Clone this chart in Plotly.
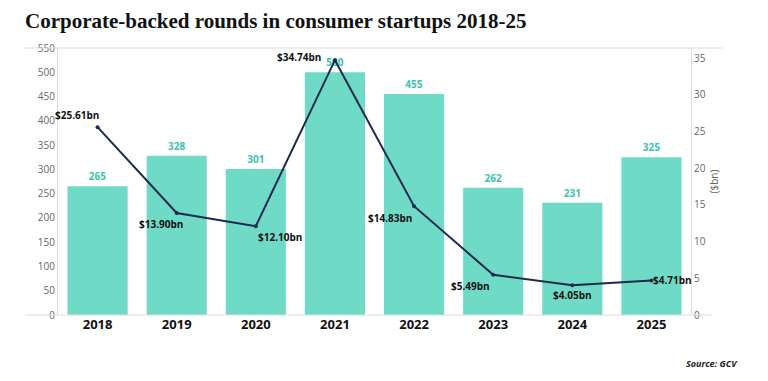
import plotly.graph_objects as go

years = ["2018", "2019", "2020", "2021", "2022", "2023", "2024", "2025"]
rounds = [265, 328, 301, 500, 455, 262, 231, 325]
value_bn = [25.61, 13.90, 12.10, 34.74, 14.83, 5.49, 4.05, 4.71]
value_labels = ["$25.61bn", "$13.90bn", "$12.10bn", "$34.74bn", "$14.83bn", "$5.49bn", "$4.05bn", "$4.71bn"]

# label placement styles (anchor, xshift, yshift) for each line point
label_styles = [
    ("right", "bottom", 3, 3),
    ("right", "top", 8, -2),
    ("left", "top", 0, -2),
    ("right", "middle", -12, 3),
    ("right", "top", 0, -3),
    ("right", "top", -1, -2),
    ("center", "top", 0, -1),
    ("left", "middle", 0, 0),
]

BAR = "#6fdbc6"
BAR_TXT = "#3cc3ae"
LINE = "#1b2a4e"
GRID = "#dcdcdc"
TICK = "#666666"

fig = go.Figure()
fig.add_trace(go.Bar(
    x=years, y=rounds, marker=dict(color=BAR, line=dict(width=0)),
    text=[str(v) for v in rounds], textposition="outside",
    textfont=dict(family="Open Sans", size=10, color=BAR_TXT, weight="bold"),
    cliponaxis=False, yaxis="y", hoverinfo="skip",
))
fig.add_trace(go.Scatter(
    x=years, y=value_bn, mode="lines+markers", yaxis="y2",
    line=dict(color=LINE, width=2), marker=dict(color=LINE, size=4),
    cliponaxis=False, hoverinfo="skip",
))

# category axis: annotations are placed by category index
for i, (y, t, (xa, ya, xs, ys)) in enumerate(zip(value_bn, value_labels, label_styles)):
    fig.add_annotation(x=i, y=y, xref="x", yref="y2", text=t, showarrow=False,
                       xanchor=xa, yanchor=ya, xshift=xs, yshift=ys,
                       font=dict(family="Open Sans", size=10, color="#111111", weight="bold"))

# frame lines
fig.add_shape(type="line", xref="paper", yref="paper", x0=-0.052, x1=1.05, y0=1, y1=1,
              line=dict(color=GRID, width=1))
fig.add_shape(type="line", xref="paper", yref="paper", x0=-0.052, x1=1.033, y0=0, y1=0,
              line=dict(color=GRID, width=1))

fig.add_annotation(text="Corporate-backed rounds in consumer startups 2018-25",
                   xref="paper", yref="paper", x=-0.056, y=1.0, yshift=13,
                   xanchor="left", yanchor="bottom", showarrow=False,
                   font=dict(family="Liberation Serif", size=21, color="#111111", weight="bold"))
fig.add_annotation(text="<i><b>Source: GCV</b></i>", xref="paper", yref="paper",
                   x=1.078, y=0, yshift=-48, xanchor="right", yanchor="middle", showarrow=False,
                   font=dict(family="Open Sans", size=9, color="#222222"))

# the page body adds an 8px offset, so the figure is 8px smaller on each axis
fig.update_layout(
    width=760, height=373,
    margin=dict(l=50, r=77, t=40, b=66, autoexpand=False),
    paper_bgcolor="white", plot_bgcolor="white",
    showlegend=False, bargap=0.24,
    xaxis=dict(type="category", range=[-0.5, len(years) - 0.5], showgrid=False, showline=False,
               ticks="", automargin=False,
               tickfont=dict(family="Open Sans", size=13, color="#111111", weight="bold")),
    yaxis=dict(range=[0, 550], dtick=50, showgrid=False, zeroline=False, automargin=False,
               showline=True, linecolor=GRID, linewidth=1,
               tickfont=dict(family="Open Sans", size=10, color=TICK)),
    yaxis2=dict(range=[0, 36.4], dtick=5, overlaying="y", side="right", showgrid=False,
                zeroline=False, showline=True, linecolor=GRID, linewidth=1, automargin=False,
                title=dict(text="($bn)", font=dict(family="Open Sans", size=10, color=TICK), standoff=6),
                tickfont=dict(family="Open Sans", size=10, color=TICK)),
)

fig.write_html("out.html")
